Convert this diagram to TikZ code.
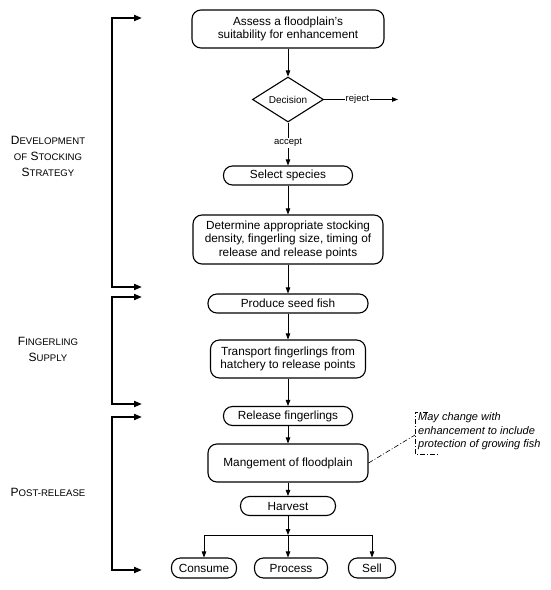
\documentclass[tikz,border=0pt]{standalone}
\usepackage{fontspec}
\setmainfont{Liberation Sans}
\usetikzlibrary{arrows.meta,shapes.geometric}
\newcommand{\smc}[1]{{\fontsize{9.6}{16}\selectfont #1}}
\begin{document}
\begin{tikzpicture}[x=1pt,y=-1pt,
  box/.style={draw, rounded corners=9pt, line width=1.1pt, align=center,
    font=\fontsize{11.8}{13.5}\selectfont, inner sep=0pt},
  dec/.style={draw, diamond, line width=1.1pt, inner sep=0pt, shape aspect=1.58,
    minimum width=71pt, minimum height=45pt, font=\fontsize{10}{12}\selectfont},
  arr/.style={-{Triangle[length=6pt,width=4.5pt]}, line width=0.8pt},
  brk/.style={{Triangle[length=8pt,width=6pt]}-{Triangle[length=8pt,width=6pt]}, line width=1.8pt},
  lbl/.style={fill=white, inner sep=1pt, font=\fontsize{9.5}{11}\selectfont},
  phase/.style={align=center, font=\fontsize{12}{16}\selectfont},
  note/.style={align=left, inner sep=0pt, font=\fontsize{11}{13.5}\selectfont\itshape},
  dd/.style={dash pattern=on 5pt off 2pt on 1pt off 2pt, line width=0.6pt}
]
\useasboundingbox (0,0) rectangle (550,590);

% main column
\node[box, minimum width=192pt, minimum height=38pt] (assess) at (288,29)
  {Assess a floodplain's\\suitability for enhancement};
\node[dec] (decision) at (288,99.5) {Decision};
\coordinate (rejend) at (398,99.5);
\node[box, minimum width=129pt, minimum height=19pt] (select) at (288,175.5) {Select species};
\node[box, minimum width=190pt, minimum height=49pt] (determine) at (288,239.5)
  {Determine appropriate stocking\\density, fingerling size, timing of\\release and release points};
\node[box, minimum width=160pt, minimum height=19pt] (produce) at (288,303.5) {Produce seed fish};
\node[box, minimum width=155pt, minimum height=38pt] (transport) at (288,359)
  {Transport fingerlings from\\hatchery to release points};
\node[box, minimum width=129pt, minimum height=19pt] (release) at (288,416) {Release fingerlings};
\node[box, minimum width=160pt, minimum height=38pt] (manage) at (288,463) {Mangement of floodplain};
\node[box, minimum width=95pt, minimum height=19pt] (harvest) at (288,506) {Harvest};
\node[box, minimum width=65pt, minimum height=20pt] (consume) at (204,568) {Consume};
\node[box, minimum width=73pt, minimum height=20pt] (process) at (291,568) {Process};
\node[box, minimum width=47pt, minimum height=20pt] (sell) at (372,568) {Sell};

% connectors
\draw[arr] (assess) -- (decision);
\draw[arr] (decision.east) -- node[lbl, pos=0.45] {reject} (rejend);
\draw[arr] (decision.south) -- node[lbl, pos=0.47] {accept} (select.north);
\draw[arr] (select) -- (determine);
\draw[arr] (determine) -- (produce);
\draw[arr] (produce) -- (transport);
\draw[arr] (transport) -- (release);
\draw[arr] (release) -- (manage);
\draw[arr] (manage) -- (harvest);
\coordinate (junc) at (288,535);
\draw[arr] (harvest) -- (junc);
\draw[line width=0.8pt] (consume.north |- junc) -- (sell.north |- junc);
\draw[arr] (consume.north |- junc) -- (consume.north);
\draw[arr] (junc) -- (junc |- process.north);
\draw[arr] (sell.north |- junc) -- (sell.north);

% note
\node[note, anchor=north west] (note) at (418,412.5)
  {May change with\\enhancement to include\\protection of growing fish};
\coordinate (notel) at (415,435);
\draw[dd] (manage.east) -- (notel);
\draw[dd] (428,412) -- (415,412) -- (415,454) -- (438,454);

% phase brackets
\coordinate (b1t) at (142,18);   \coordinate (b1b) at (142,287);
\coordinate (b2t) at (142,297);  \coordinate (b2b) at (142,404);
\coordinate (b3t) at (142,417);  \coordinate (b3b) at (142,570);
\draw[brk] (b1t) -- (112,18) -- (112,287) -- (b1b);
\draw[brk] (b2t) -- (112,297) -- (112,404) -- (b2b);
\draw[brk] (b3t) -- (112,417) -- (112,570) -- (b3b);

\node[phase] (ph1) at (48,156) {D\smc{EVELOPMENT}\\\smc{OF} S\smc{TOCKING}\\S\smc{TRATEGY}};
\node[phase] (ph2) at (48,349.5) {F\smc{INGERLING}\\S\smc{UPPLY}};
\node[phase] (ph3) at (48,492) {P\smc{OST-RELEASE}};
\end{tikzpicture}
\end{document}
